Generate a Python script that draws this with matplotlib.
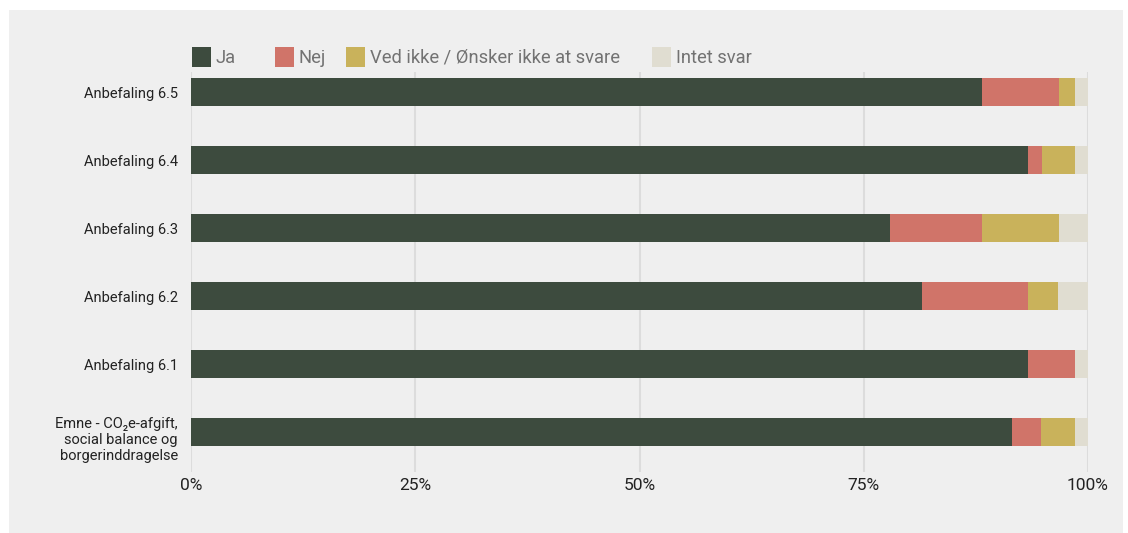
import matplotlib
matplotlib.use("Agg")
import matplotlib.pyplot as plt
from matplotlib.patches import Rectangle
from matplotlib.transforms import blended_transform_factory, ScaledTranslation
import numpy as np

plt.rcParams['font.family'] = ['Roboto', 'DejaVu Sans']

categories = [
    "Anbefaling 6.5",
    "Anbefaling 6.4",
    "Anbefaling 6.3",
    "Anbefaling 6.2",
    "Anbefaling 6.1",
    "Emne - CO\u2082e-afgift,\nsocial balance og\nborgerinddragelse",
]
series_names = ["Ja", "Nej", "Ved ikke / Ønsker ikke at svare", "Intet svar"]
ja = [88.2, 93.3, 77.9, 81.5, 93.3, 91.5]
nej = [8.6, 1.6, 10.3, 11.8, 5.2, 3.3]
ved_ikke = [1.8, 3.7, 8.6, 3.3, 0.0, 3.7]
intet = [1.4, 1.4, 3.2, 3.4, 1.5, 1.5]
xticks = [0, 25, 50, 75, 100]
xticklabels = ["0%", "25%", "50%", "75%", "100%"]

colors = ["#3d4b3e", "#d07469", "#c9b25b", "#e0ddd1"]
bg = "#efefef"

W, H = 1128, 533
fig = plt.figure(figsize=(W / 100, H / 100), dpi=100)
fig.patch.set_facecolor("white")
fig.add_artist(Rectangle((9 / W, 0), (1123 - 9) / W, (533 - 10) / H,
                         transform=fig.transFigure, facecolor=bg, edgecolor="none", zorder=0))

ax_left, ax_right, ax_top, ax_bot = 191, 1088, 72, 472
ax = fig.add_axes([ax_left / W, 1 - ax_bot / H, (ax_right - ax_left) / W, (ax_bot - ax_top) / H])
ax.set_facecolor(bg)
ax.patch.set_alpha(0)

data = [ja, nej, ved_ikke, intet]
y = np.arange(len(categories))
left = np.zeros(len(categories))
for vals, col, name in zip(data, colors, series_names):
    vals = np.array(vals)
    ax.barh(y, vals, left=left, height=28 / 68, color=col, label=name, zorder=3)
    left += vals

ax.set_xlim(0, 100)
ax.set_ylim(5 + 40 / 68, -20 / 68)
ax.set_xticks(xticks)
ax.set_xticklabels(xticklabels, fontsize=12.5, color="#222222")
ax.set_yticks(y)
ax.set_yticklabels([""] * len(categories))
ax.tick_params(axis="both", length=0)
ax.tick_params(axis="x", pad=4)
for s in ax.spines.values():
    s.set_visible(False)
ax.grid(axis="x", color="#dcdcdc", linewidth=1.5, zorder=1)
ax.set_axisbelow(True)

# y category labels (right aligned left of the axis)
trans = blended_transform_factory(ax.transAxes, ax.transData)
for i, cat in enumerate(categories):
    dy = -8 / 100 if "\n" in cat else -2 / 100
    t = trans + ScaledTranslation(-13 / 100, dy, fig.dpi_scale_trans)
    ax.text(0, y[i], cat, transform=t, ha="right", va="center", fontsize=10.5,
            color="#222222", linespacing=1.2, multialignment="right")

# legend
leg_x = [192, 275, 346, 652]
for xpos, col, name in zip(leg_x, colors, series_names):
    fig.add_artist(Rectangle((xpos / W, 1 - 67 / H), 19 / W, 20 / H,
                             transform=fig.transFigure, facecolor=col, edgecolor="none"))
    fig.text((xpos + 24) / W, 1 - 58 / H, name, fontsize=13.2, color="#727272",
             va="center", ha="left")

fig.savefig("out.png", dpi=100, facecolor=fig.get_facecolor())
